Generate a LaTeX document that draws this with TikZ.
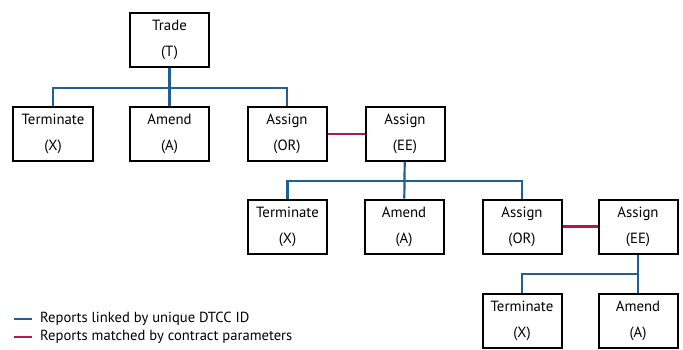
\documentclass[tikz,border=0pt]{standalone}
\usepackage{fontspec}
\setmainfont{PT Sans}
\definecolor{linkblue}{HTML}{1F5F94}
\definecolor{matchred}{HTML}{B3174C}
\tikzset{
  report/.style={draw=black, line width=2bp, minimum width=79bp, minimum height=54bp,
    inner sep=0pt, align=center, font=\fontsize{14.8bp}{26bp}\selectfont},
  linked/.style={linkblue, line width=2.2bp},
  matched/.style={matchred, line width=2.2bp},
  legendtext/.style={anchor=west, inner sep=0pt, font=\fontsize{14.6bp}{16bp}\selectfont}
}
\begin{document}
\begin{tikzpicture}[x=1bp, y=-1bp]
\useasboundingbox (0,0) rectangle (683,349);
% first level
\node[report] (trade) at (169.5,40) {Trade\\(T)};
\node[report] (term1) at (53,134) {Terminate\\(X)};
\node[report] (amend1) at (169.5,134) {Amend\\(A)};
\node[report] (assignor1) at (287,134) {Assign\\(OR)};
\node[report] (assignee1) at (405,134) {Assign\\(EE)};
% second level
\node[report] (term2) at (287.5,226.5) {Terminate\\(X)};
\node[report] (amend2) at (404,226.5) {Amend\\(A)};
\node[report] (assignor2) at (522,226.5) {Assign\\(OR)};
\node[report] (assignee2) at (638,226.5) {Assign\\(EE)};
% third level
\node[report] (term3) at (522,320.5) {Terminate\\(X)};
\node[report] (amend3) at (638,320.5) {Amend\\(A)};
% junctions
\coordinate (j1) at (169.5,88);
\coordinate (j2) at (404,181);
\coordinate (j3) at (638,274);
% blue links
\draw[linked] (trade) -- (amend1);
\draw[linked] (term1.north) |- (j1) -| (assignor1.north);
\draw[linked] (assignee1) -- (amend2);
\draw[linked] (term2.north) |- (j2) -| (assignor2.north);
\draw[linked] (assignee2) -- (amend3);
\draw[linked] (term3.north) |- (j3);
% red matches
\draw[matched] (assignor1) -- (assignee1);
\draw[matched] (assignor2) -- (assignee2);
% legend
\coordinate (l1) at (14,319);
\coordinate (l2) at (14,337);
\draw[linked] (l1) -- ++(18,0) coordinate (l1e);
\draw[matched] (l2) -- ++(18,0) coordinate (l2e);
\node[legendtext] (leg1) at ([xshift=8bp]l1e) {Reports linked by unique DTCC ID};
\node[legendtext] (leg2) at ([xshift=8bp]l2e) {Reports matched by contract parameters};
\end{tikzpicture}
\end{document}
